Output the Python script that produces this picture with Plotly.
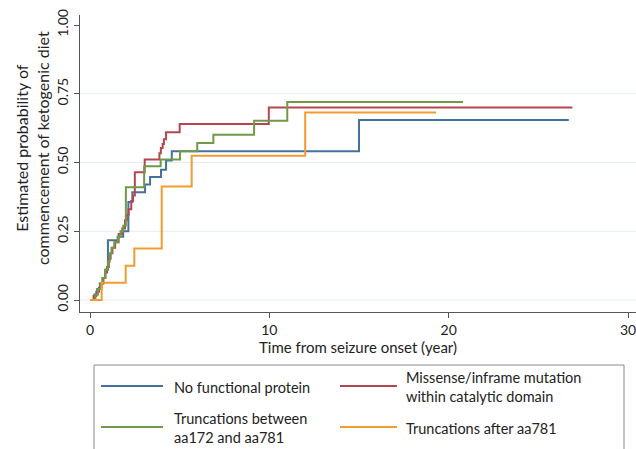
import plotly.graph_objects as go

# ---- data ----
blue_t = [0, 0.25, 0.4, 0.55, 0.7, 0.85, 1.0, 1.55, 1.85, 2.14, 2.36, 3.07, 3.35, 3.96, 4.24, 4.56, 15.0, 26.7]
blue_p = [0, 0.02, 0.04, 0.06, 0.08, 0.11, 0.217, 0.23, 0.25, 0.356, 0.392, 0.42, 0.447, 0.474, 0.507, 0.541, 0.655, 0.655]

red_t = [0, 0.2, 0.35, 0.5, 0.65, 0.75, 0.85, 0.95, 1.05, 1.15, 1.25, 1.4, 1.6, 1.8, 1.95, 2.05, 2.15, 2.3, 2.4,
         2.5, 3.05, 3.87, 3.95, 4.05, 4.12, 4.24, 5.0, 9.97, 26.9]
red_p = [0, 0.015, 0.03, 0.045, 0.06, 0.08, 0.1, 0.12, 0.15, 0.17, 0.19, 0.21, 0.24, 0.26, 0.29, 0.31, 0.33, 0.36, 0.38,
         0.465, 0.511, 0.534, 0.553, 0.567, 0.585, 0.61, 0.64, 0.70, 0.70]

green_t = [0, 0.3, 0.45, 0.6, 0.7, 0.85, 1.0, 1.1, 1.2, 1.35, 1.55, 1.7, 1.85, 2.0, 3.02, 3.94, 5.02, 5.98, 6.88, 9.15, 11.0, 20.8]
green_p = [0, 0.02, 0.04, 0.06, 0.08, 0.11, 0.14, 0.17, 0.19, 0.21, 0.23, 0.25, 0.27, 0.41, 0.486, 0.511, 0.541, 0.571, 0.601, 0.652, 0.72, 0.72]

orange_t = [0, 0.65, 1.99, 2.47, 4.0, 5.67, 12.0, 19.3]
orange_p = [0, 0.0625, 0.125, 0.1875, 0.413, 0.525, 0.682, 0.682]

series_names = ["No functional protein",
                "Missense/inframe mutation<br>within catalytic domain",
                "Truncations between<br>aa172 and aa781",
                "Truncations after aa781"]
series_colors = ["#44729f", "#b5464f", "#6f9a47", "#f29b2f"]

x_ticks = [0, 10, 20, 30]
y_ticks = [0, 0.25, 0.5, 0.75, 1.0]
y_tick_labels = ["0.00", "0.25", "0.50", "0.75", "1.00"]
y_grid = [0, 0.25, 0.5, 0.75]

x_title = "Time from seizure onset (year)"
y_title = "Estimated probability of<br>commencement of ketogenic diet"

FONT = "Lato, 'Open Sans', sans-serif"
TXT = "#222222"
AX = "#555555"

W, H = 636, 449
ML, MR, MT, MB = 80, 0, 15, 137
PW, PH = W - ML - MR, H - MT - MB


def px_x(p):
    return (p - ML) / PW


def px_y(p):
    return (H - MB - p) / PH


fig = go.Figure()
all_t = [blue_t, red_t, green_t, orange_t]
all_p = [blue_p, red_p, green_p, orange_p]
for t, p, name, col in zip(all_t, all_p, series_names, series_colors):
    fig.add_trace(go.Scatter(x=t, y=p, mode="lines", line=dict(color=col, width=2, shape="hv"),
                             name=name, showlegend=False, hoverinfo="skip"))

shapes = []
for g in y_grid:
    shapes.append(dict(type="line", xref="paper", yref="y", x0=0, x1=1, y0=g, y1=g,
                       line=dict(color="#e6edf2", width=1), layer="below"))

annotations = [
    dict(text=y_title, xref="paper", yref="paper", x=px_x(32), y=px_y(148), textangle=-90,
         showarrow=False, font=dict(family=FONT, size=16, color=TXT), xanchor="center", yanchor="middle"),
]

# legend box (manual, to match the long line samples of the original)
shapes.append(dict(type="rect", xref="paper", yref="paper", x0=px_x(94), x1=px_x(624),
                   y0=px_y(470), y1=px_y(365), line=dict(color="#8a8a8a", width=1), fillcolor="rgba(0,0,0,0)"))
leg_pos = [(101, 163, 172, 386), (340, 397, 404, 386), (101, 163, 172, 427), (340, 397, 404, 427)]
for (lx0, lx1, tx, ly), name, col in zip(leg_pos, series_names, series_colors):
    shapes.append(dict(type="line", xref="paper", yref="paper", x0=px_x(lx0), x1=px_x(lx1),
                       y0=px_y(ly), y1=px_y(ly), line=dict(color=col, width=2)))
    annotations.append(dict(text=name, xref="paper", yref="paper", x=px_x(tx), y=px_y(ly + 1),
                            showarrow=False, xanchor="left", yanchor="middle", align="left",
                            font=dict(family=FONT, size=14.5, color=TXT)))

fig.update_layout(
    width=W, height=H,
    margin=dict(l=ML, r=MR, t=MT, b=MB, pad=0),
    paper_bgcolor="white", plot_bgcolor="white",
    font=dict(family=FONT, size=14, color=TXT),
    showlegend=False,
    shapes=shapes,
    annotations=annotations,
    xaxis=dict(range=[-10 / 17.93, 30 + 8 / 17.93], tickvals=x_ticks, ticktext=[str(v) for v in x_ticks],
               showgrid=False, zeroline=False, showline=True, linecolor=AX, linewidth=1,
               ticks="outside", ticklen=5, tickcolor=AX, tickwidth=1, ticklabeloverflow="allow",
               tickfont=dict(family=FONT, size=14, color=TXT),
               title=dict(text=x_title, font=dict(family=FONT, size=15, color=TXT), standoff=2)),
    yaxis=dict(range=[-12 / 275, 1 + 10 / 275], tickvals=y_ticks, ticktext=y_tick_labels,
               showgrid=False, zeroline=False, showline=True, linecolor=AX, linewidth=1,
               ticks="outside", ticklen=5, tickcolor=AX, tickwidth=1, tickangle=-90,
               tickfont=dict(family=FONT, size=14, color=TXT)),
)

fig.write_html("out.html", config={"displayModeBar": False, "staticPlot": True},
               post_script="document.body.style.margin='0';document.body.style.padding='0';")
